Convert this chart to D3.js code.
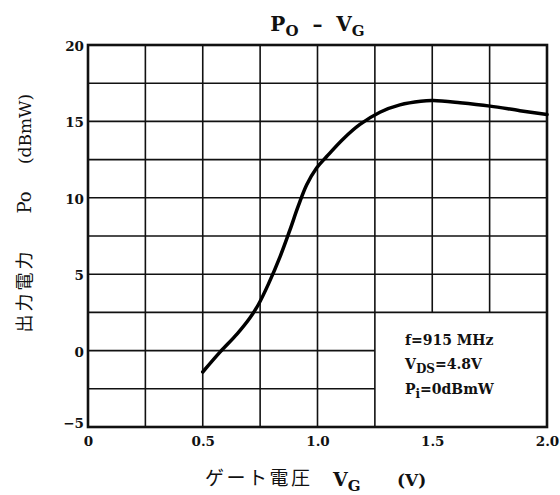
<!DOCTYPE html>
<html>
<head>
<meta charset="utf-8">
<script src="https://cdn.jsdelivr.net/npm/d3@7"></script>
<style>
  html, body { margin: 0; padding: 0; background: #fff; }
  svg { display: block; }
</style>
</head>
<body>
<svg id="chart" width="560" height="495"></svg>
<script>
// ---- data ----
const vg = [0.5, 0.575, 0.65, 0.706, 0.742, 0.786, 0.837, 0.88, 0.916, 0.953, 0.996, 1.04, 1.112, 1.185, 1.272, 1.359, 1.45, 1.505, 1.621, 1.752, 1.882, 2.0];
const po = [-1.4, -0.1, 1.1, 2.15, 3.0, 4.35, 6.15, 7.9, 9.45, 10.85, 11.95, 12.7, 13.85, 14.8, 15.6, 16.08, 16.32, 16.36, 16.22, 16.0, 15.7, 15.45];
const xTickValues = [0, 0.5, 1.0, 1.5, 2.0];
const xTickLabels = ["0", "0.5", "1.0", "1.5", "2.0"];
const yTickValues = [-5, 0, 5, 10, 15, 20];
const yTickLabels = ["\u22125", "0", "5", "10", "15", "20"];
const xGridValues = [0.25, 0.5, 0.75, 1.0, 1.25, 1.5, 1.75];
const yGridValues = [-2.5, 0, 2.5, 5, 7.5, 10, 12.5, 15, 17.5];
// legend block (in data units): the grid is left blank inside it
const legendX = [1.25, 2.0];
const legendY = [-5, 2.5];
const legendLines = [
  [{t: "f=915 MHz"}],
  [{t: "V"}, {t: "DS", sub: true}, {t: "=4.8V"}],
  [{t: "P"}, {t: "i", sub: true}, {t: "=0dBmW"}]
];

// ---- layout ----
const svg = d3.select("#chart");
const L = 88, R = 547, T = 45, B = 427;
const x = d3.scaleLinear().domain([0, 2.0]).range([L, R]);
const y = d3.scaleLinear().domain([-5, 20]).range([B, T]);
const serif = "'DejaVu Serif', 'Liberation Serif', serif";
const cjk = "'Noto Sans CJK JP', sans-serif";

svg.append("rect").attr("width", 560).attr("height", 495).attr("fill", "#fff");

// grid
const g = svg.append("g").attr("stroke", "#111").attr("stroke-width", 1.6);
xGridValues.forEach(v => {
  const inLegendCol = v > legendX[0] && v < legendX[1];
  const yBottom = inLegendCol ? legendY[1] : -5;
  g.append("line").attr("x1", x(v)).attr("x2", x(v)).attr("y1", y(20)).attr("y2", y(yBottom));
});
yGridValues.forEach(v => {
  const inLegendRow = v > legendY[0] && v < legendY[1];
  const xRight = inLegendRow ? legendX[0] : 2.0;
  g.append("line").attr("x1", x(0)).attr("x2", x(xRight)).attr("y1", y(v)).attr("y2", y(v));
});

// frame
svg.append("rect").attr("x", L).attr("y", T).attr("width", R - L).attr("height", B - T)
  .attr("fill", "none").attr("stroke", "#111").attr("stroke-width", 2.6);

// curve
const pts = vg.map((v, i) => [v, po[i]]);
const line = d3.line().x(d => x(d[0])).y(d => y(d[1])).curve(d3.curveCatmullRom.alpha(0.5));
svg.append("path").attr("d", line(pts)).attr("fill", "none")
  .attr("stroke", "#000").attr("stroke-width", 3.5).attr("stroke-linejoin", "round").attr("stroke-linecap", "round");

// axes (labels only, via d3 axes)
const xAxis = d3.axisBottom(x).tickValues(xTickValues).tickFormat((d, i) => xTickLabels[i]).tickSize(0).tickPadding(9);
const xg = svg.append("g").attr("transform", `translate(0,${B})`).call(xAxis);
xg.select(".domain").remove();
xg.selectAll("text").attr("font-family", serif).attr("font-weight", "bold").attr("font-size", 13.5).attr("fill", "#111");

const yAxis = d3.axisLeft(y).tickValues(yTickValues).tickFormat((d, i) => yTickLabels[i]).tickSize(0).tickPadding(4);
const yg = svg.append("g").attr("transform", `translate(${L},0)`).call(yAxis);
yg.select(".domain").remove();
yg.selectAll("text").attr("font-family", serif).attr("font-weight", "bold").attr("font-size", 13.5).attr("fill", "#111")
  .attr("dy", (d) => d === -5 ? "0.05em" : "0.4em");

// title
const title = svg.append("text").attr("x", (L + R) / 2).attr("y", 31).attr("text-anchor", "middle")
  .attr("font-family", serif).attr("font-weight", "bold").attr("font-size", 20).attr("fill", "#111");
title.append("tspan").text("P");
title.append("tspan").attr("font-size", 15).attr("dy", 5).text("O");
title.append("tspan").attr("dy", -5).text("  \u2013  ").attr("xml:space", "preserve");
title.append("tspan").text("V");
title.append("tspan").attr("font-size", 15).attr("dy", 5).text("G");

// x label
svg.append("text").attr("x", 205).attr("y", 485).attr("font-family", cjk).attr("font-size", 19)
  .attr("letter-spacing", 2.5).attr("fill", "#111").text("ゲート電圧");
const xl = svg.append("text").attr("x", 333).attr("y", 486).attr("font-family", serif).attr("font-weight", "bold")
  .attr("font-size", 19).attr("fill", "#111");
xl.append("tspan").text("V");
xl.append("tspan").attr("font-size", 15).attr("dy", 5).text("G");
svg.append("text").attr("x", 397).attr("y", 486).attr("font-family", serif).attr("font-weight", "bold")
  .attr("font-size", 17).attr("fill", "#111").text("(V)");

// y label (rotated)
const ylab = (txt, cy, fam, size, weight, ls) => svg.append("text")
  .attr("transform", `translate(31,${cy}) rotate(-90)`).attr("text-anchor", "middle")
  .attr("font-family", fam).attr("font-size", size).attr("font-weight", weight)
  .attr("letter-spacing", ls || 0).attr("fill", "#111").text(txt);
ylab("出力電力", 290.5, cjk, 18, "normal", 3);
ylab("Po", 202.5, serif, 18, "normal");
ylab("(dBmW)", 129, serif, 17, "normal");

// legend
const baselines = [345, 369, 394];
legendLines.forEach((parts, i) => {
  const t = svg.append("text").attr("x", 405).attr("y", baselines[i]).attr("font-family", serif)
    .attr("font-weight", "bold").attr("font-size", 14).attr("fill", "#111");
  let shifted = false;
  parts.forEach(p => {
    const s = t.append("tspan").text(p.t);
    if (p.sub && !shifted) { s.attr("font-size", 12).attr("dy", 4); shifted = true; }
    else if (!p.sub && shifted) { s.attr("dy", -4); shifted = false; }
  });
});
</script>
</body>
</html>
